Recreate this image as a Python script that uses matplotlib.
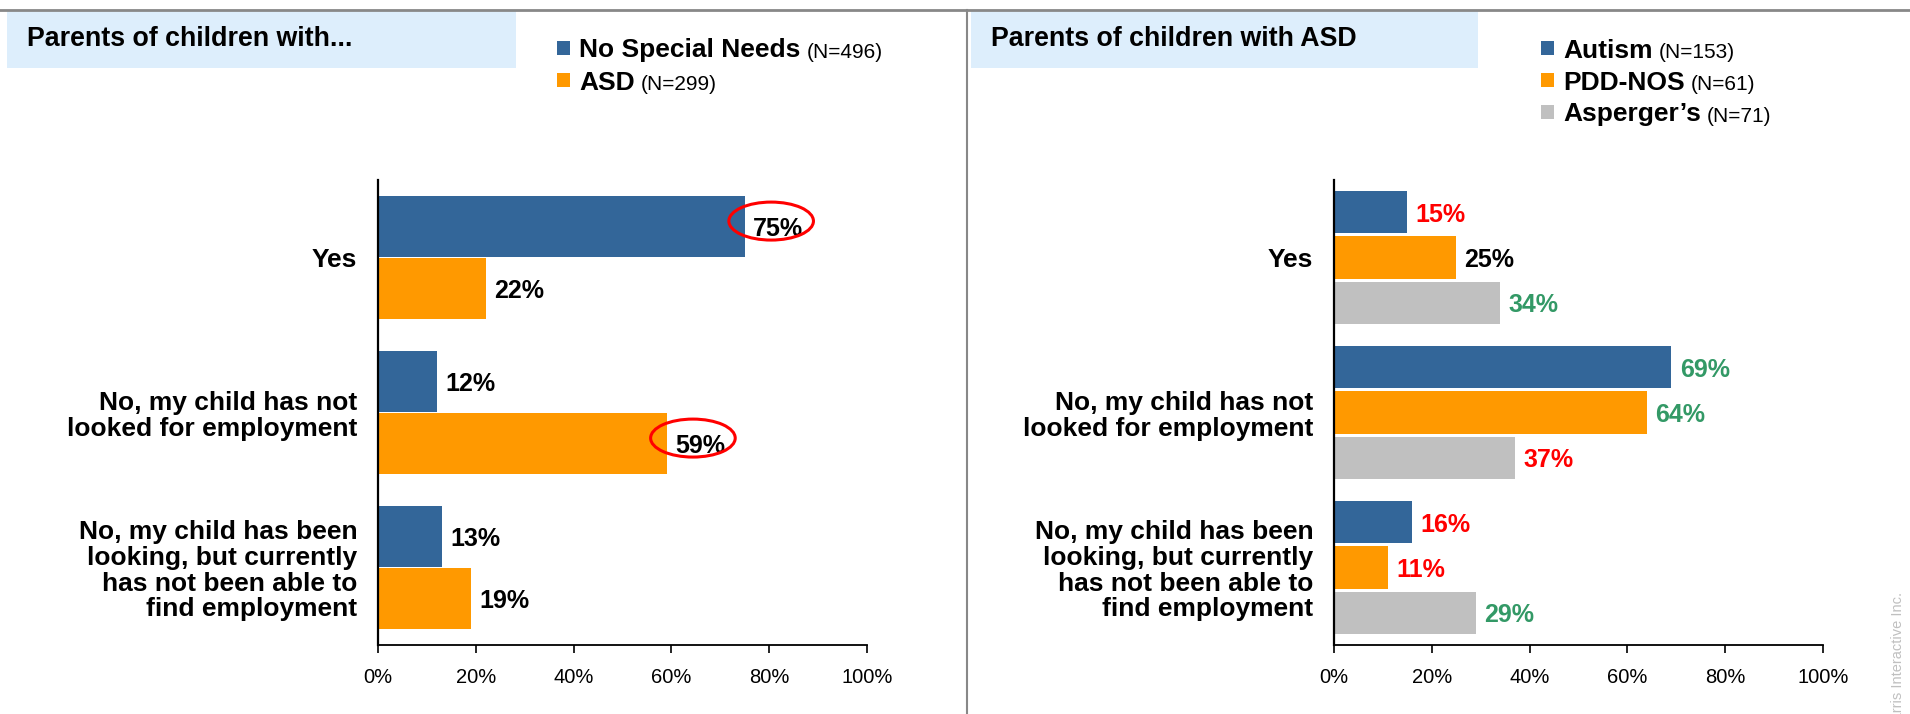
import numpy as np
import matplotlib
matplotlib.use("Agg")
import matplotlib.pyplot as plt
from matplotlib.patches import Ellipse, Rectangle
from matplotlib.lines import Line2D

plt.rcParams["font.family"] = ["Liberation Sans", "DejaVu Sans"]

# ----------------------------------------------------------
# Data
# ----------------------------------------------------------
CATEGORIES = [
    "Yes",
    "No, my child has not\nlooked for employment",
    "No, my child has been\nlooking, but currently\nhas not been able to\nfind employment",
]
X_TICKS = [0, 20, 40, 60, 80, 100]
X_TICK_LABELS = ["0%", "20%", "40%", "60%", "80%", "100%"]

LEFT_TITLE = "Parents of children with..."
LEFT_SERIES = ["No Special Needs", "ASD"]
LEFT_N = ["(N=496)", "(N=299)"]
LEFT_VALUES = [
    [75, 12, 13],   # No Special Needs
    [22, 59, 19],   # ASD
]
LEFT_HIGHLIGHT = [(0, 0), (1, 1)]   # (series, category) circled in red

RIGHT_TITLE = "Parents of children with ASD"
RIGHT_SERIES = ["Autism", "PDD-NOS", "Asperger\u2019s"]
RIGHT_N = ["(N=153)", "(N=61)", "(N=71)"]
RIGHT_VALUES = [
    [15, 69, 16],   # Autism
    [25, 64, 11],   # PDD-NOS
    [34, 37, 29],   # Asperger's
]

# ----------------------------------------------------------
# Style
# ----------------------------------------------------------
BLUE, ORANGE, GRAY = "#336699", "#FF9900", "#C0C0C0"
RED, GREEN, BLACK = "#FF0000", "#339966", "#000000"

LEFT_COLORS = [BLUE, ORANGE]
RIGHT_COLORS = [BLUE, ORANGE, GRAY]
LEFT_LABEL_COLORS = [[BLACK] * 3, [BLACK] * 3]
RIGHT_LABEL_COLORS = [
    [RED, GREEN, RED],
    [BLACK, GREEN, RED],
    [GREEN, RED, GREEN],
]

W, H = 1910, 714
fig = plt.figure(figsize=(W / 100, H / 100), dpi=100)


def fx(px):
    return px / W


def fy(py):
    return 1 - py / H


def draw_panel(left_px, values, colors, label_colors, offsets, bar_h):
    ax = fig.add_axes([fx(left_px), fy(645), 489 / W, 465 / H])
    y = np.arange(len(CATEGORIES))
    for i, vals in enumerate(values):
        ax.barh(y + offsets[i], vals, height=bar_h, color=colors[i], linewidth=0)
        for j, v in enumerate(vals):
            ax.text(v + 1.7, y[j] + offsets[i], f"{v}%", ha="left",
                    va="center_baseline", fontsize=18, fontweight="bold",
                    color=label_colors[i][j])
    ax.set_xlim(0, 100)
    ax.set_ylim(2.5, -0.5)
    ax.set_xticks(X_TICKS)
    ax.set_xticklabels(X_TICK_LABELS, fontsize=14.5)
    ax.set_yticks(y)
    ax.set_yticklabels(CATEGORIES, fontsize=19, fontweight="bold", linespacing=1.08)
    ax.tick_params(axis="y", length=0, pad=15)
    ax.tick_params(axis="x", length=5.5, width=1.2, pad=11, direction="out")
    ax.spines["top"].set_visible(False)
    ax.spines["right"].set_visible(False)
    ax.spines["left"].set_linewidth(1.6)
    ax.spines["bottom"].set_linewidth(1.3)
    return ax


def draw_legend(x_marker, x_text, ys, names, ns, colors):
    renderer = fig.canvas.get_renderer()
    for yy, name, n, c in zip(ys, names, ns, colors):
        fig.add_artist(Rectangle((fx(x_marker), fy(yy + 6.5)), 13 / W, 13 / H,
                                 transform=fig.transFigure, facecolor=c,
                                 edgecolor="none"))
        t = fig.text(fx(x_text), fy(yy + 9.5), name, fontsize=19,
                     fontweight="bold", va="baseline", ha="left")
        bb = t.get_window_extent(renderer)
        fig.text((bb.x1 + 6) / W, fy(yy + 9.5), n, fontsize=15,
                 va="baseline", ha="left")


# ----------------------------------------------------------
# Frame: top rule, divider, title boxes
# ----------------------------------------------------------
fig.add_artist(Line2D([0, 1], [fy(9.5), fy(9.5)], color="#888888", lw=2,
                      transform=fig.transFigure))
fig.add_artist(Line2D([fx(967), fx(967)], [0, fy(10)], color="#888888", lw=1.5,
                      transform=fig.transFigure))
for x0, x1, title in [(7, 516, LEFT_TITLE), (971, 1478, RIGHT_TITLE)]:
    fig.add_artist(Rectangle((fx(x0), fy(68)), (x1 - x0) / W, 57 / H,
                             transform=fig.transFigure, facecolor="#DDEEFC",
                             edgecolor="none"))
    fig.text(fx(x0 + 20), fy(46), title, fontsize=19.3, fontweight="bold",
             va="baseline", ha="left")

# ----------------------------------------------------------
# Left panel
# ----------------------------------------------------------
ax_l = draw_panel(378, LEFT_VALUES, LEFT_COLORS, LEFT_LABEL_COLORS,
                  [-0.2, 0.2], 0.394)
for s, c in LEFT_HIGHLIGHT:
    v = LEFT_VALUES[s][c]
    yc = c + [-0.2, 0.2][s] - 0.035
    ax_l.add_patch(Ellipse((v + 5.4, yc), width=17.3, height=0.245, fill=False,
                           edgecolor=RED, lw=2.2, clip_on=False, zorder=5))
draw_legend(557, 579, [48, 80], LEFT_SERIES, LEFT_N, LEFT_COLORS)

# ----------------------------------------------------------
# Right panel
# ----------------------------------------------------------
ax_r = draw_panel(1334, RIGHT_VALUES, RIGHT_COLORS, RIGHT_LABEL_COLORS,
                  [-0.292, 0.0, 0.292], 0.272)
draw_legend(1541, 1563, [48, 80, 112], RIGHT_SERIES, RIGHT_N, RIGHT_COLORS)

# watermark on the right edge (partly cut off, as in the source slide)
fig.text(fx(1898), fy(592), "Harris Interactive Inc.", rotation=90,
         ha="center", va="top", fontsize=10.5, color="#C0C0C0")

fig.savefig("out.png", dpi=100)
